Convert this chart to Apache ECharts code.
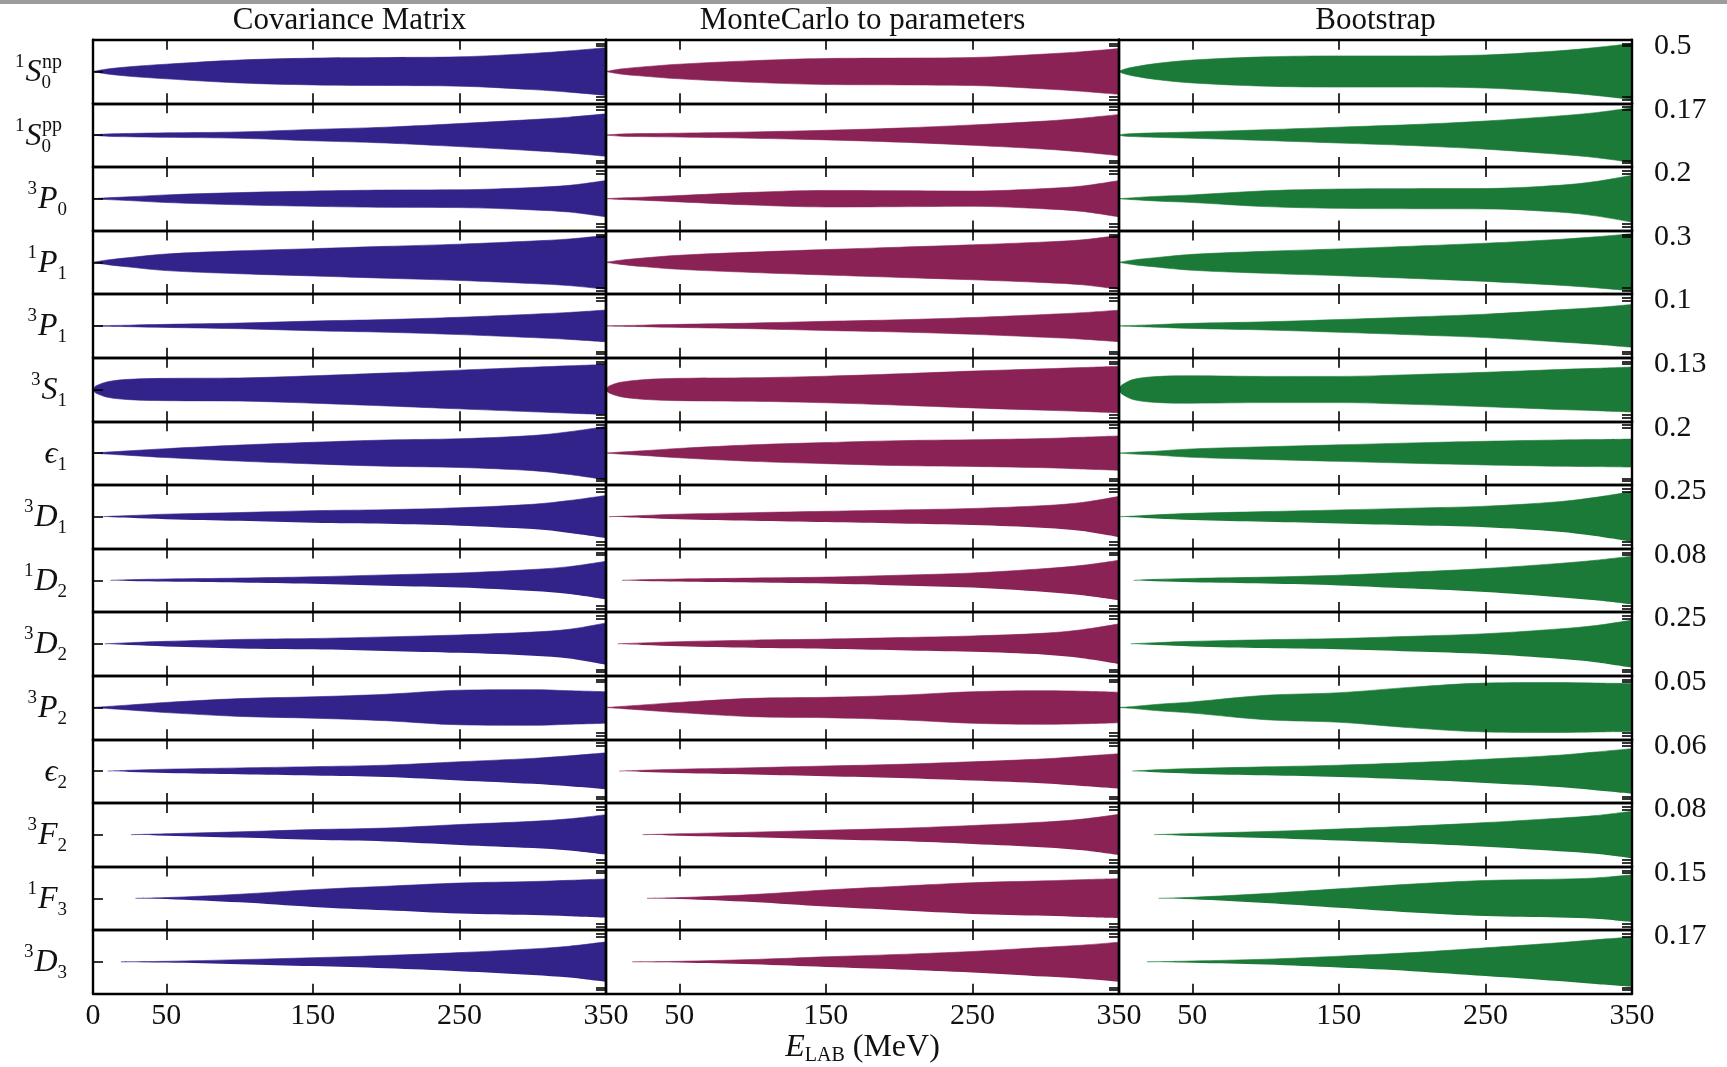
<!DOCTYPE html>
<html>
<head>
<meta charset="utf-8">
<title>Phase-shift error bands</title>
<script src="https://cdn.jsdelivr.net/npm/echarts@6/dist/echarts.min.js"></script>
<style>
  html, body { margin: 0; padding: 0; background: #fff; }
  #chart { width: 1727px; height: 1067px; }
</style>
</head>
<body>
<div id="chart"></div>
<script>
// energies (MeV) where the half-widths of the bands were read
const energies = [1, 3, 10, 25, 50, 100, 150, 200, 250, 300, 325, 350];

const methods = ['Covariance Matrix', 'MonteCarlo to parameters', 'Bootstrap'];
const colors = ['#31238a', '#8a2256', '#1b7a37'];

// partial waves, top to bottom
const wavePre  = ['1', '1', '3', '1', '3', '3', '', '3', '1', '3', '3', '', '3', '1', '3'];
const waveMain = ['S', 'S', 'P', 'P', 'P', 'S', 'ϵ', 'D', 'D', 'D', 'P', 'ϵ', 'F', 'F', 'D'];
const waveSub  = ['0', '0', '0', '1', '1', '1', '1', '1', '2', '2', '2', '2', '2', '3', '3'];
const waveSup  = ['np', 'pp', '', '', '', '', '', '', '', '', '', '', '', '', ''];

// scale written at the right of each row
const scaleLabel = ['0.5', '0.17', '0.2', '0.3', '0.1', '0.13', '0.2', '0.25', '0.08', '0.25', '0.05', '0.06', '0.08', '0.15', '0.17'];

// energy where each band opens (width 0)
const covOnset  = [0, 0, 0, 0, 0, 0, 0, 7, 12, 8, 0, 10, 26, 29, 19];
const mcOnset   = [0, 0, 0, 0, 0, 0, 0, 2, 11, 8, 0, 9, 25, 28, 18];
const bootOnset = [0, 0, 0, 0, 0, 0, 0, 1, 10, 8, 0, 9, 24, 27, 19];

// half-widths of the bands at the energies above
const covWidth = [
  [null, null, 0.05, 0.094, 0.144, 0.225, 0.263, 0.275, 0.288, 0.356, 0.406, 0.469],
  [null, null, 0.008, 0.011, 0.015, 0.021, 0.038, 0.053, 0.077, 0.104, 0.12, 0.142],
  [null, null, 0.007, 0.015, 0.03, 0.048, 0.06, 0.068, 0.07, 0.088, 0.105, 0.143],
  [null, null, 0.028, 0.056, 0.098, 0.135, 0.161, 0.188, 0.214, 0.251, 0.275, 0.319],
  [null, null, null, 0.003, 0.006, 0.011, 0.019, 0.025, 0.034, 0.046, 0.053, 0.0625],
  [0.013, 0.022, 0.04, 0.052, 0.057, 0.059, 0.07, 0.084, 0.099, 0.114, 0.121, 0.128],
  [null, null, 0.008, 0.018, 0.035, 0.063, 0.085, 0.103, 0.113, 0.138, 0.168, 0.21],
  [null, null, 0.003, 0.011, 0.025, 0.041, 0.059, 0.069, 0.088, 0.122, 0.159, 0.209],
  [null, null, null, 0.002, 0.004, 0.007, 0.011, 0.017, 0.023, 0.034, 0.043, 0.06],
  [null, null, 0.002, 0.012, 0.025, 0.044, 0.053, 0.069, 0.088, 0.116, 0.144, 0.206],
  [null, null, 0.002, 0.005, 0.01, 0.0175, 0.021, 0.026, 0.034, 0.035, 0.033, 0.031],
  [null, null, null, 0.002, 0.0045, 0.0075, 0.0105, 0.014, 0.022, 0.03, 0.036, 0.043],
  [null, null, null, null, 0.003, 0.009, 0.016, 0.021, 0.032, 0.042, 0.05, 0.063],
  [null, null, null, null, 0.004, 0.024, 0.051, 0.071, 0.09, 0.099, 0.106, 0.114],
  [null, null, null, null, 0.004, 0.015, 0.028, 0.043, 0.062, 0.087, 0.105, 0.134]
];
const mcWidth = [
  [null, null, 0.05, 0.09, 0.144, 0.213, 0.256, 0.263, 0.275, 0.344, 0.39, 0.45],
  [null, null, 0.007, 0.01, 0.013, 0.021, 0.032, 0.047, 0.068, 0.094, 0.113, 0.138],
  [null, null, 0.006, 0.012, 0.025, 0.05, 0.065, 0.063, 0.06, 0.08, 0.1, 0.143],
  [null, null, 0.025, 0.05, 0.083, 0.12, 0.15, 0.178, 0.206, 0.24, 0.265, 0.319],
  [null, null, null, 0.003, 0.006, 0.011, 0.018, 0.024, 0.033, 0.045, 0.052, 0.062],
  [0.012, 0.021, 0.037, 0.05, 0.057, 0.06, 0.068, 0.08, 0.094, 0.106, 0.112, 0.119],
  [null, null, 0.008, 0.018, 0.037, 0.065, 0.083, 0.098, 0.105, 0.115, 0.125, 0.135],
  [null, null, 0.004, 0.012, 0.025, 0.04, 0.053, 0.066, 0.081, 0.11, 0.14, 0.2],
  [null, null, null, 0.002, 0.004, 0.007, 0.01, 0.016, 0.023, 0.037, 0.047, 0.063],
  [null, null, 0.002, 0.01, 0.022, 0.037, 0.047, 0.062, 0.078, 0.106, 0.14, 0.197],
  [null, null, 0.002, 0.005, 0.01, 0.018, 0.02, 0.024, 0.031, 0.033, 0.032, 0.03],
  [null, null, null, 0.002, 0.0045, 0.008, 0.012, 0.016, 0.022, 0.029, 0.035, 0.041],
  [null, null, null, null, 0.003, 0.008, 0.014, 0.02, 0.029, 0.04, 0.049, 0.064],
  [null, null, null, null, 0.004, 0.022, 0.049, 0.071, 0.092, 0.103, 0.11, 0.116],
  [null, null, null, null, 0.004, 0.016, 0.034, 0.05, 0.07, 0.098, 0.112, 0.132]
];
const bootWidth = [
  [null, 0.04, 0.088, 0.156, 0.225, 0.288, 0.306, 0.306, 0.325, 0.406, 0.47, 0.55],
  [null, 0.006, 0.01, 0.015, 0.021, 0.036, 0.053, 0.07, 0.094, 0.128, 0.15, 0.183],
  [null, null, 0.008, 0.018, 0.03, 0.062, 0.076, 0.079, 0.08, 0.105, 0.135, 0.185],
  [null, null, 0.028, 0.055, 0.094, 0.13, 0.158, 0.19, 0.225, 0.27, 0.3, 0.338],
  [null, null, null, 0.005, 0.01, 0.016, 0.025, 0.035, 0.046, 0.063, 0.072, 0.084],
  [0.016, 0.028, 0.052, 0.066, 0.07, 0.067, 0.067, 0.076, 0.088, 0.102, 0.108, 0.115],
  [null, null, 0.007, 0.015, 0.033, 0.05, 0.065, 0.08, 0.093, 0.103, 0.106, 0.11],
  [null, null, 0.006, 0.018, 0.033, 0.05, 0.066, 0.084, 0.103, 0.147, 0.19, 0.247],
  [null, null, null, 0.003, 0.006, 0.01, 0.016, 0.026, 0.037, 0.053, 0.063, 0.076],
  [null, null, 0.002, 0.012, 0.025, 0.041, 0.053, 0.075, 0.1, 0.147, 0.18, 0.234],
  [null, null, 0.002, 0.006, 0.011, 0.024, 0.029, 0.04, 0.048, 0.049, 0.048, 0.047],
  [null, null, null, 0.003, 0.006, 0.01, 0.014, 0.02, 0.028, 0.0375, 0.045, 0.053],
  [null, null, null, null, 0.004, 0.01, 0.018, 0.027, 0.038, 0.052, 0.06, 0.074],
  [null, null, null, null, 0.006, 0.028, 0.056, 0.084, 0.105, 0.113, 0.12, 0.139],
  [null, null, null, null, 0.006, 0.018, 0.038, 0.062, 0.094, 0.128, 0.148, 0.166]
];

const widths = [covWidth, mcWidth, bootWidth];
const onsets = [covOnset, mcOnset, bootOnset];

// layout
const left0 = 93, colW = 513, top0 = 39.7, rowH = 63.6;
const serif = 'Liberation Serif';
const black = '#000';
const ink = '#111';

// one edge of a band (+1 upper, -1 lower); the lower one is padded with zero width back to E = 0
const bandPoints = (w, onset, sign) => {
  const pts = [[onset, 0]];
  if (sign < 0 && onset > 0) pts.unshift([0, 0]);
  energies.forEach((e, k) => {
    if (e > onset && w[k] != null) pts.push([e, sign * w[k]]);
  });
  return pts;
};

const axisLine = { show: true, onZero: false, lineStyle: { color: black, width: 2.4 } };
const tickStyle = { color: black, width: 1.6 };

const grids = [], xAxes = [], yAxes = [], series = [];

scaleLabel.forEach((lab, r) => {
  const M = Number(lab);
  const R = M * 1.25;
  methods.forEach((m, c) => {
    const i = r * 3 + c;
    grids.push({ left: left0 + c * colW, top: top0 + r * rowH, width: colW, height: rowH });
    xAxes.push({
      gridIndex: i, type: 'value', min: 0, max: 350, position: 'bottom', z: 5,
      axisLine,
      axisTick: { show: true, inside: true, length: 10, customValues: [50, 150, 250], lineStyle: tickStyle },
      axisLabel: {
        show: r === scaleLabel.length - 1,
        customValues: c === 0 ? [0, 50, 150, 250, 350] : [50, 150, 250, 350],
        fontFamily: serif, fontSize: 30, color: ink, margin: 7
      },
      splitLine: { show: false }
    });
    xAxes.push({
      gridIndex: i, type: 'value', min: 0, max: 350, position: 'top', z: 5,
      axisLine,
      axisTick: { show: true, inside: true, length: 10, customValues: [50, 150, 250], lineStyle: tickStyle },
      axisLabel: { show: false },
      splitLine: { show: false }
    });
    yAxes.push({
      gridIndex: i, type: 'value', min: -R, max: R, position: 'left', z: 5,
      axisLine,
      axisTick: { show: c === 0, inside: true, length: 10, customValues: [0], lineStyle: tickStyle },
      axisLabel: { show: false },
      splitLine: { show: false }
    });
    yAxes.push({
      gridIndex: i, type: 'value', min: -R, max: R, position: 'right', z: 5,
      axisLine,
      axisTick: { show: true, inside: true, length: 10, customValues: [-1.1 * M, -M, M, 1.1 * M], lineStyle: tickStyle },
      axisLabel: {
        show: c === 2, customValues: [M], formatter: () => lab,
        fontFamily: serif, fontSize: 30, color: ink, margin: 22
      },
      splitLine: { show: false }
    });
    const w = widths[c][r], on = onsets[c][r];
    // upper edge: colour filled down to the bottom of the panel
    series.push({
      type: 'line', xAxisIndex: 2 * i, yAxisIndex: 2 * i,
      data: bandPoints(w, on, 1),
      smooth: 0.35, symbol: 'none', silent: true,
      lineStyle: { color: colors[c], width: 0.6 },
      areaStyle: { color: colors[c], opacity: 1, origin: 'start' }
    });
    // lower edge: blank below it
    series.push({
      type: 'line', xAxisIndex: 2 * i, yAxisIndex: 2 * i,
      data: bandPoints(w, on, -1),
      smooth: 0.35, symbol: 'none', silent: true,
      lineStyle: { color: colors[c], width: 0.6, opacity: on > 0 ? 0 : 1 },
      areaStyle: { color: '#fff', opacity: 1, origin: 'start' }
    });
  });
});

// texts: titles, partial wave names, axis name
const graphics = [
  { type: 'rect', shape: { x: 0, y: 0, width: 1727, height: 4 }, style: { fill: '#9c9c9c' }, silent: true }
];
methods.forEach((m, c) => {
  graphics.push({
    type: 'text', x: left0 + c * colW + colW / 2, y: 21, silent: true,
    style: { text: m, fontFamily: serif, fontSize: 31, fill: ink, align: 'center', verticalAlign: 'middle' }
  });
});

const waveRich = {
  pre: { fontFamily: serif, fontSize: 19, lineHeight: 19, verticalAlign: 'top', padding: [0, 1, 0, 0] },
  main: { fontFamily: serif, fontSize: 32, fontStyle: 'italic', lineHeight: 40, verticalAlign: 'middle' },
  sub: { fontFamily: serif, fontSize: 19, lineHeight: 19, verticalAlign: 'bottom' }
};
waveMain.forEach((w, r) => {
  const cy = top0 + r * rowH + rowH / 2;
  const txt = (wavePre[r] ? '{pre|' + wavePre[r] + '}' : '') + '{main|' + w + '}{sub|' + waveSub[r] + '}';
  const stacked = waveSup[r] !== '';
  graphics.push({
    type: 'text', x: stacked ? 51 : 67, y: cy + 1, silent: true,
    style: { text: txt, rich: waveRich, fill: ink, align: 'right', verticalAlign: 'middle' }
  });
  if (stacked) {
    graphics.push({
      type: 'text', x: 42, y: cy - 9, silent: true,
      style: { text: waveSup[r], fontFamily: serif, fontSize: 20, fill: ink, align: 'left', verticalAlign: 'middle' }
    });
  }
});

graphics.push({
  type: 'text', x: left0 + colW * 1.5, y: 1048, silent: true,
  style: {
    text: '{e|E}{s|LAB}{n| (MeV)}', fill: ink, align: 'center', verticalAlign: 'middle',
    rich: {
      e: { fontFamily: serif, fontSize: 32, fontStyle: 'italic', lineHeight: 36, verticalAlign: 'middle' },
      s: { fontFamily: serif, fontSize: 20, lineHeight: 20, verticalAlign: 'bottom' },
      n: { fontFamily: serif, fontSize: 32, lineHeight: 36, verticalAlign: 'middle' }
    }
  }
});

const chart = echarts.init(document.getElementById('chart'));
chart.setOption({
  backgroundColor: '#fff',
  animation: false,
  grid: grids,
  xAxis: xAxes,
  yAxis: yAxes,
  series,
  graphic: graphics
});
</script>
</body>
</html>
